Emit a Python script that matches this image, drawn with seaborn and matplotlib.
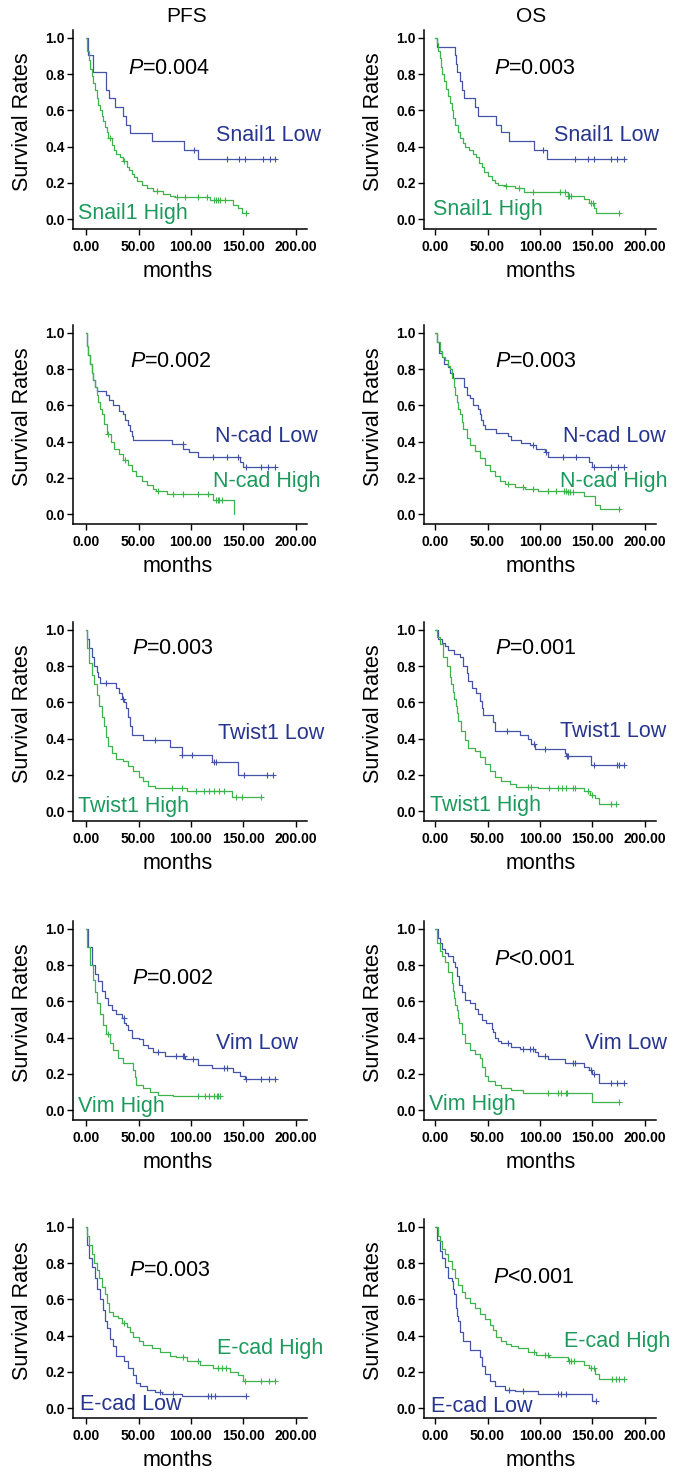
import numpy as np
import matplotlib
matplotlib.use("Agg")
import matplotlib.pyplot as plt
from matplotlib.ticker import FormatStrFormatter
import seaborn as sns

# ---- data: step times (months), survival, censor times ----
# PFS Snail1
pfs_snail_low_t = [0, 2, 7, 19, 22, 28, 35, 38, 42, 63, 93, 107, 180]
pfs_snail_low_s = [1.0, 0.905, 0.81, 0.71, 0.67, 0.62, 0.57, 0.52, 0.476, 0.43, 0.38, 0.33, 0.33]
pfs_snail_low_c = [103, 134, 146, 151, 169, 175, 180]
pfs_snail_high_t = [0, 1.3, 2.5, 3.8, 5.4, 7, 8.6, 10, 11.7, 13.3, 15, 16.5, 18, 19.7, 21, 24.4, 26.7, 29,
                    32, 35, 38.7, 41, 43.5, 46, 49, 53, 58, 64, 73.6, 80, 85, 118, 140, 145, 149, 152]
pfs_snail_high_s = [1.0, 0.93, 0.88, 0.83, 0.79, 0.75, 0.71, 0.67, 0.63, 0.60, 0.57, 0.54, 0.51, 0.48, 0.45,
                    0.41, 0.38, 0.36, 0.34, 0.32, 0.29, 0.27, 0.25, 0.23, 0.21, 0.19, 0.17, 0.155, 0.14, 0.13,
                    0.12, 0.105, 0.08, 0.06, 0.035, 0.035]
pfs_snail_high_c = [23, 36.5, 68, 87, 94, 107, 115, 122, 124, 126, 128, 132, 152]

# OS Snail1
os_snail_low_t = [0, 2, 19, 20, 21, 23.7, 26, 28, 38, 41, 58.5, 63, 70, 94, 107, 180]
os_snail_low_s = [1.0, 0.952, 0.905, 0.857, 0.81, 0.76, 0.71, 0.67, 0.62, 0.57, 0.52, 0.48, 0.43, 0.38, 0.33, 0.33]
os_snail_low_c = [103, 133.5, 145.6, 151, 167.7, 173.4, 179.7]
os_snail_high_t = [0, 2, 3, 4.5, 6, 7, 8.5, 10, 12, 14, 15.8, 17.5, 19.5, 21.5, 24, 26.5, 28.5, 32, 36.4, 39,
                   41.5, 44.3, 47, 50, 53.8, 57, 60, 68, 76, 85, 126.6, 142, 147, 151, 153.5, 175.6]
os_snail_high_s = [1.0, 0.97, 0.93, 0.89, 0.84, 0.80, 0.76, 0.72, 0.68, 0.64, 0.60, 0.56, 0.52, 0.48, 0.45,
                   0.42, 0.40, 0.38, 0.36, 0.34, 0.31, 0.29, 0.26, 0.24, 0.215, 0.20, 0.19, 0.18, 0.17, 0.15,
                   0.13, 0.11, 0.09, 0.06, 0.035, 0.035]
os_snail_high_c = [68, 80, 93, 118.7, 124, 126.6, 128, 130, 149, 150.5, 175.6]

# PFS N-cad
pfs_ncad_low_t = [0, 1, 2.2, 3.8, 5.4, 7, 8.6, 10, 19, 22, 26, 31, 35, 37, 40, 42, 43.5, 45, 81.6, 92.7, 98,
                  107, 147, 150, 180]
pfs_ncad_low_s = [1.0, 0.93, 0.88, 0.83, 0.78, 0.74, 0.70, 0.68, 0.66, 0.63, 0.60, 0.57, 0.55, 0.52, 0.49,
                  0.46, 0.43, 0.41, 0.385, 0.36, 0.34, 0.315, 0.29, 0.26, 0.26]
pfs_ncad_low_c = [92, 120.6, 134, 145, 152, 167, 173.7, 180]
pfs_ncad_high_t = [0, 1, 2.2, 3.8, 5.4, 7, 8.6, 10, 11.7, 13.3, 15, 17.5, 20, 23.5, 26.7, 31, 35, 40, 43.5,
                   47.6, 53, 58, 64, 67, 77, 121, 141]
pfs_ncad_high_s = [1.0, 0.93, 0.88, 0.83, 0.78, 0.74, 0.70, 0.66, 0.62, 0.58, 0.55, 0.50, 0.44, 0.40, 0.36,
                   0.33, 0.30, 0.27, 0.24, 0.21, 0.18, 0.16, 0.14, 0.125, 0.11, 0.08, 0.0]
pfs_ncad_high_c = [21, 37, 69, 83, 92.7, 107, 116.5, 124, 125.5, 127, 130]

# OS N-cad
os_ncad_low_t = [0, 2, 3.8, 6.3, 8.9, 12, 14, 17.4, 27.8, 30, 33, 36, 41, 42.7, 44, 46, 47.5, 58.5, 69.6,
                 72.8, 82, 90, 96.5, 104.4, 107.6, 147, 150, 180]
os_ncad_low_s = [1.0, 0.95, 0.89, 0.87, 0.83, 0.81, 0.78, 0.75, 0.70, 0.66, 0.64, 0.60, 0.58, 0.55, 0.52,
                 0.49, 0.47, 0.45, 0.43, 0.41, 0.395, 0.38, 0.36, 0.34, 0.315, 0.29, 0.26, 0.26]
os_ncad_low_c = [93.4, 106, 122, 134.5, 151, 167.7, 174, 179.7]
os_ncad_high_t = [0, 2, 4.7, 7, 9.5, 12, 14, 16.5, 17.7, 19, 20.6, 22, 23.7, 25.5, 27, 30, 33, 38, 42.7,
                  47.5, 52, 57, 61.7, 66.5, 76, 85.4, 98, 126, 142, 152, 157, 175.6]
os_ncad_high_s = [1.0, 0.95, 0.90, 0.87, 0.85, 0.82, 0.80, 0.75, 0.70, 0.66, 0.62, 0.58, 0.55, 0.51, 0.47,
                  0.42, 0.38, 0.35, 0.31, 0.27, 0.24, 0.21, 0.185, 0.165, 0.15, 0.14, 0.13, 0.12, 0.10,
                  0.05, 0.03, 0.03]
os_ncad_high_c = [69.6, 84, 93.4, 108, 115.5, 123, 125, 127, 129, 131, 175.6]

# PFS Twist1
pfs_twist_low_t = [0, 1.3, 3, 5.4, 7.6, 10, 11.7, 13.3, 29, 31.7, 34, 36, 38, 39.7, 42, 43.5, 54.6, 80, 91,
                   119.7, 145, 178]
pfs_twist_low_s = [1.0, 0.95, 0.90, 0.85, 0.80, 0.77, 0.74, 0.705, 0.68, 0.65, 0.62, 0.60, 0.57, 0.52,
                   0.47, 0.42, 0.39, 0.355, 0.31, 0.27, 0.20, 0.20]
pfs_twist_low_c = [19, 35, 66, 91.5, 100.6, 121.5, 124, 150.5, 172, 178]
pfs_twist_high_t = [0, 1.3, 3, 5.4, 7.6, 10, 12.7, 15, 17, 19, 21, 24.4, 29, 35.6, 40, 45, 50, 54.6, 59,
                    65.7, 96, 138.7, 167]
pfs_twist_high_s = [1.0, 0.90, 0.82, 0.75, 0.70, 0.64, 0.58, 0.52, 0.47, 0.41, 0.36, 0.32, 0.29, 0.275,
                    0.25, 0.22, 0.19, 0.165, 0.14, 0.125, 0.11, 0.075, 0.075]
pfs_twist_high_c = [81.6, 91, 105, 112, 117, 122, 127, 131, 143, 149, 167]

# OS Twist1
os_twist_low_t = [0, 3, 6.3, 9.5, 12.7, 18, 23.7, 27, 30, 31.6, 34.8, 39.5, 42.7, 44.3, 45.9, 55.4, 57.6,
                  80.7, 88.6, 91.8, 95, 123.4, 125, 148.7, 180]
os_twist_low_s = [1.0, 0.95, 0.93, 0.91, 0.89, 0.87, 0.85, 0.80, 0.76, 0.72, 0.68, 0.65, 0.61, 0.57, 0.53,
                  0.49, 0.44, 0.42, 0.40, 0.37, 0.345, 0.32, 0.305, 0.255, 0.255]
os_twist_low_c = [69, 94, 104.4, 125.5, 127, 151, 173, 175, 180]
os_twist_high_t = [0, 2, 4.7, 8, 11, 14, 15.5, 17.4, 18.5, 19.6, 21, 22, 25, 28.5, 31.6, 38, 42.7, 47.5,
                   52, 57, 63, 71, 77.5, 98, 142, 148, 152, 156.6, 172]
os_twist_high_s = [1.0, 0.96, 0.92, 0.85, 0.80, 0.74, 0.70, 0.66, 0.62, 0.58, 0.54, 0.50, 0.44, 0.39,
                   0.35, 0.33, 0.30, 0.26, 0.22, 0.19, 0.165, 0.15, 0.135, 0.125, 0.11, 0.09, 0.07, 0.04, 0.04]
os_twist_high_c = [88.6, 91.8, 109, 117, 121, 125, 131, 133, 146, 150, 168, 172]

# PFS Vim
pfs_vim_low_t = [0, 2.2, 5.4, 8.6, 11.7, 15, 18, 21, 24.4, 29, 34, 36.5, 38, 40, 43.5, 50, 54.6, 59, 64, 75,
                 94, 107, 120, 140, 146.7, 151.4, 180]
pfs_vim_low_s = [1.0, 0.9, 0.8, 0.75, 0.71, 0.66, 0.62, 0.58, 0.55, 0.53, 0.51, 0.48, 0.47, 0.44, 0.40,
                 0.39, 0.36, 0.34, 0.32, 0.30, 0.28, 0.25, 0.23, 0.21, 0.19, 0.17, 0.17]
pfs_vim_low_c = [36, 69, 86, 92, 93.5, 102, 131, 134, 152, 167, 174, 180]
pfs_vim_high_t = [0, 1, 3.8, 6.3, 8.6, 10.8, 13.3, 15.9, 19, 22.9, 26, 30.8, 35.6, 45, 46.7, 48, 54.6, 61,
                  69, 83, 128]
pfs_vim_high_s = [1.0, 0.9, 0.8, 0.72, 0.65, 0.59, 0.53, 0.47, 0.42, 0.37, 0.33, 0.29, 0.26, 0.22, 0.18,
                  0.14, 0.12, 0.10, 0.085, 0.075, 0.075]
pfs_vim_high_c = [21.3, 107, 113, 117, 121.5, 124.5, 126, 128]

# OS Vim
os_vim_low_t = [0, 3, 4.7, 7, 9.5, 12.7, 17.4, 19, 20.6, 23, 25.3, 28.5, 33, 38, 41, 44.3, 49, 53.8, 55.4,
                57, 60, 63, 72.8, 80.7, 95, 98, 107.6, 123.4, 142, 147, 150, 156.6, 179.7]
os_vim_low_s = [1.0, 0.95, 0.92, 0.89, 0.87, 0.85, 0.82, 0.79, 0.74, 0.69, 0.65, 0.61, 0.59, 0.56, 0.53,
                0.50, 0.48, 0.45, 0.43, 0.40, 0.38, 0.37, 0.35, 0.335, 0.32, 0.30, 0.28, 0.26, 0.24, 0.22,
                0.20, 0.15, 0.15]
os_vim_low_c = [69.6, 84, 90, 93.4, 104.4, 131, 133.5, 149, 151, 167.7, 173.4, 179.7]
os_vim_high_t = [0, 1.5, 4.7, 7, 9.5, 12.7, 15.8, 17, 18.4, 19.5, 20.6, 21.7, 22.8, 25.3, 28.5, 33, 38,
                 42.7, 44.3, 47.5, 50.6, 57, 63, 72.8, 84, 150, 175.6]
os_vim_high_s = [1.0, 0.92, 0.88, 0.85, 0.82, 0.76, 0.70, 0.66, 0.62, 0.58, 0.55, 0.51, 0.48, 0.42, 0.37,
                 0.33, 0.31, 0.29, 0.24, 0.19, 0.16, 0.14, 0.12, 0.11, 0.095, 0.045, 0.045]
os_vim_high_c = [108, 117, 120, 124.5, 126, 175.6]

# PFS E-cad
pfs_ecad_high_t = [0, 1, 3, 5.4, 7.6, 10, 12.7, 15, 18, 20.3, 22.2, 26, 30.8, 34, 38.7, 42, 45, 50, 54.6,
                   62.5, 70.5, 80, 86, 96, 108.6, 121, 137, 145, 150, 180]
pfs_ecad_high_s = [1.0, 0.95, 0.90, 0.85, 0.80, 0.76, 0.72, 0.67, 0.63, 0.58, 0.53, 0.51, 0.50, 0.47, 0.45,
                   0.42, 0.39, 0.37, 0.35, 0.33, 0.31, 0.29, 0.28, 0.26, 0.24, 0.22, 0.20, 0.18, 0.15, 0.15]
pfs_ecad_high_c = [36, 92.7, 107, 126, 130, 133, 151, 167, 174, 180]
pfs_ecad_low_t = [0, 1.3, 3, 5.4, 8.6, 10.8, 13.3, 15.9, 18, 20.3, 22.9, 26, 29, 36, 40, 44.4, 48, 51.4,
                  57.8, 65.7, 72, 91, 152.4]
pfs_ecad_low_s = [1.0, 0.9, 0.83, 0.78, 0.72, 0.66, 0.60, 0.54, 0.48, 0.44, 0.38, 0.34, 0.29, 0.26, 0.22,
                  0.18, 0.14, 0.12, 0.10, 0.09, 0.08, 0.065, 0.065]
pfs_ecad_low_c = [70, 82.5, 116.5, 119.5, 123, 152.4]

# OS E-cad
os_ecad_high_t = [0, 3, 4.7, 7, 9.5, 12.7, 15.8, 19, 22, 25.3, 28.5, 33, 38, 42.7, 47.5, 52, 55.4, 58.5,
                  63, 68, 72.8, 79, 88.6, 96.5, 109, 126.6, 142, 147, 152, 156.6, 180]
os_ecad_high_s = [1.0, 0.95, 0.92, 0.88, 0.85, 0.81, 0.77, 0.72, 0.68, 0.64, 0.61, 0.58, 0.55, 0.52, 0.49,
                  0.46, 0.43, 0.39, 0.37, 0.355, 0.345, 0.33, 0.31, 0.295, 0.28, 0.26, 0.24, 0.22, 0.19,
                  0.16, 0.16]
os_ecad_high_c = [94, 104.4, 107.6, 128, 130, 132, 149, 151, 169, 172, 175, 180]
os_ecad_low_t = [0, 1.5, 4.7, 7, 9.5, 12.7, 15.8, 17, 18.4, 19.6, 20.5, 21.5, 23.7, 27, 33, 42.7, 44.3,
                 47.5, 52, 57, 66.5, 76, 98, 150, 153.5]
os_ecad_low_s = [1.0, 0.93, 0.87, 0.83, 0.78, 0.72, 0.70, 0.66, 0.63, 0.55, 0.51, 0.48, 0.42, 0.37, 0.32,
                 0.28, 0.23, 0.19, 0.15, 0.12, 0.10, 0.095, 0.08, 0.04, 0.04]
os_ecad_low_c = [70, 84, 117, 120, 124.7, 153.5]

p_values = ["=0.004", "=0.003", "=0.002", "=0.003", "=0.003", "=0.001", "=0.002", "<0.001", "=0.003", "<0.001"]
markers = ["Snail1", "N-cad", "Twist1", "Vim", "E-cad"]
x_ticks = [0, 50, 100, 150, 200]
y_ticks = [0.0, 0.2, 0.4, 0.6, 0.8, 1.0]

BLUE_LINE = "#4253a8"
GREEN_LINE = "#3db44c"
BLUE_TEXT = "#27358f"
GREEN_TEXT = "#1c9a5c"

sns.set_style("ticks")
plt.rcParams["font.family"] = ["Liberation Sans", "DejaVu Sans"]
plt.rcParams["mathtext.fontset"] = "custom"
plt.rcParams["mathtext.rm"] = "Liberation Sans"
plt.rcParams["mathtext.it"] = "Liberation Sans:italic"
plt.rcParams["text.color"] = "black"
plt.rcParams["axes.labelcolor"] = "black"
plt.rcParams["xtick.color"] = "black"
plt.rcParams["ytick.color"] = "black"


def draw_km(ax, t, s, cens, color):
    sns.lineplot(x=t, y=s, ax=ax, color=color, drawstyle="steps-post",
                 estimator=None, sort=False, linewidth=0.9)
    t_arr = np.asarray(t)
    s_arr = np.asarray(s)
    idx = np.searchsorted(t_arr, cens, side="right") - 1
    sns.scatterplot(x=cens, y=s_arr[idx], ax=ax, marker="+", s=18,
                    color=color, linewidth=0.8, zorder=3)


# (low curve, high curve) per panel, row-major: PFS left, OS right
panels = [
    ((pfs_snail_low_t, pfs_snail_low_s, pfs_snail_low_c), (pfs_snail_high_t, pfs_snail_high_s, pfs_snail_high_c)),
    ((os_snail_low_t, os_snail_low_s, os_snail_low_c), (os_snail_high_t, os_snail_high_s, os_snail_high_c)),
    ((pfs_ncad_low_t, pfs_ncad_low_s, pfs_ncad_low_c), (pfs_ncad_high_t, pfs_ncad_high_s, pfs_ncad_high_c)),
    ((os_ncad_low_t, os_ncad_low_s, os_ncad_low_c), (os_ncad_high_t, os_ncad_high_s, os_ncad_high_c)),
    ((pfs_twist_low_t, pfs_twist_low_s, pfs_twist_low_c), (pfs_twist_high_t, pfs_twist_high_s, pfs_twist_high_c)),
    ((os_twist_low_t, os_twist_low_s, os_twist_low_c), (os_twist_high_t, os_twist_high_s, os_twist_high_c)),
    ((pfs_vim_low_t, pfs_vim_low_s, pfs_vim_low_c), (pfs_vim_high_t, pfs_vim_high_s, pfs_vim_high_c)),
    ((os_vim_low_t, os_vim_low_s, os_vim_low_c), (os_vim_high_t, os_vim_high_s, os_vim_high_c)),
    ((pfs_ecad_low_t, pfs_ecad_low_s, pfs_ecad_low_c), (pfs_ecad_high_t, pfs_ecad_high_s, pfs_ecad_high_c)),
    ((os_ecad_low_t, os_ecad_low_s, os_ecad_low_c), (os_ecad_high_t, os_ecad_high_s, os_ecad_high_c)),
]

# text placement in data coords: P value, Low label, High label
p_pos = [(40, 0.83), (56, 0.83), (42, 0.84), (57, 0.84), (43.5, 0.90), (57, 0.90),
         (43.5, 0.726), (56, 0.83), (41, 0.76), (55, 0.72)]
low_pos = [(124, 0.46), (113, 0.46), (123, 0.43), (122, 0.43), (126, 0.43), (119, 0.44),
           (124, 0.365), (142.5, 0.37), (-5.7, 0.02), (-4, 0.01)]
high_pos = [(-7.3, 0.03), (-2, 0.05), (121, 0.18), (119, 0.18), (-7.4, 0.025), (-5, 0.03),
            (-7.4, 0.02), (-6, 0.03), (124.4, 0.33), (123, 0.37)]

W, H = 678, 1478
fig = plt.figure(figsize=(W / 100, H / 100), dpi=100)

col_x = [73, 424]
col_w = [234, 232]
col_xlim = [(-12.4, 210.5), (-10.5, 210.5)]
row_top = [30, 325, 622, 921, 1219]
ax_h = 199
label_x = [-0.216, -0.218]
months_x = [0.449, 0.504]

for i, (low, high) in enumerate(panels):
    r, c = divmod(i, 2)
    ax = fig.add_axes([col_x[c] / W, 1 - (row_top[r] + ax_h) / H, col_w[c] / W, ax_h / H])
    draw_km(ax, *low, BLUE_LINE)
    draw_km(ax, *high, GREEN_LINE)

    ax.set_xlim(*col_xlim[c])
    ax.set_ylim(-0.055, 1.044)
    ax.set_xticks(x_ticks)
    ax.set_yticks(y_ticks)
    ax.xaxis.set_major_formatter(FormatStrFormatter("%.2f"))
    ax.yaxis.set_major_formatter(FormatStrFormatter("%.1f"))
    ax.tick_params(direction="out", length=4, width=1, labelsize=10, pad=2, colors="black")
    ax.tick_params(axis="x", pad=4)
    for lbl in ax.get_xticklabels() + ax.get_yticklabels():
        lbl.set_fontweight("bold")
    sns.despine(ax=ax)
    for sp in ("left", "bottom"):
        ax.spines[sp].set_linewidth(1.1)
        ax.spines[sp].set_color("black")

    ax.set_ylabel("Survival Rates", fontsize=15.5, va="center")
    ax.yaxis.set_label_coords(label_x[c], 0.54)
    ax.set_xlabel("months", fontsize=15.5, va="center")
    ax.xaxis.set_label_coords(months_x[c], -0.216)

    ax.text(*p_pos[i], r"$P$" + p_values[i], fontsize=15.5, ha="left", va="center", color="black")
    lx, ly = low_pos[i]
    hx, hy = high_pos[i]
    ax.text(lx, ly, markers[r] + " Low", color=BLUE_TEXT, fontsize=15.5, ha="left", va="center")
    ax.text(hx, hy, markers[r] + " High", color=GREEN_TEXT, fontsize=15.5, ha="left", va="center")

fig.text(187 / W, 1 - 17 / H, "PFS", fontsize=15, ha="center", va="center")
fig.text(531 / W, 1 - 17 / H, "OS", fontsize=15, ha="center", va="center")

fig.savefig("out.png", dpi=100, facecolor="white")
